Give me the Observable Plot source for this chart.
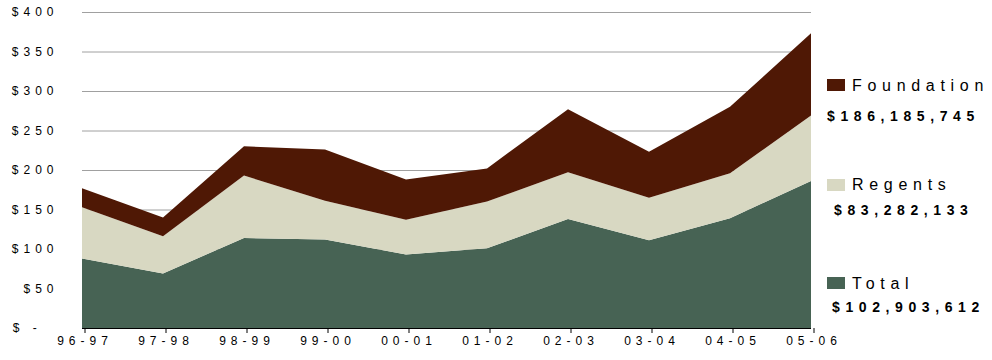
<!DOCTYPE html>
<html>
<head>
<meta charset="utf-8">
<script src="https://cdn.jsdelivr.net/npm/d3@7"></script>
<script src="https://cdn.jsdelivr.net/npm/@observablehq/plot@0.6"></script>
<style>
  html, body { margin: 0; padding: 0; background: #fff; }
  #wrap { position: relative; width: 992px; height: 360px; font-family: "Liberation Sans", Arial, sans-serif; }
  #chart svg text { letter-spacing: 5px; }
  .lg { position: absolute; line-height: 1; color: #000; white-space: nowrap; }
  .lg.sw { width: 18px; height: 12px; }
  .lg.name { font-size: 16px; letter-spacing: 5.7px; }
  .lg.val { font-size: 14px; font-weight: bold; letter-spacing: 5.6px; }
</style>
</head>
<body>
<div id="wrap"><div id="chart"></div></div>
<script>
const categories = ["96-97","97-98","98-99","99-00","00-01","01-02","02-03","03-04","04-05","05-06"];
const seriesNames = ["Total","Regents","Foundation"];
const seriesColors = ["#476354","#d8d8c2","#4f1805"];
const totalValues = [88, 69, 114, 112, 93, 101, 138, 111, 139, 186];
const regentsValues = [65, 47, 79, 49, 44, 59, 59, 54, 57, 83];
const foundationValues = [24, 24, 37, 65, 51, 42, 80, 58, 84, 104];
const yTicks = [0, 50, 100, 150, 200, 250, 300, 350, 400];
const yTickLabels = ["$ -\u00a0\u00a0", "$50", "$100", "$150", "$200", "$250", "$300", "$350", "$400"];
const legendNames = ["Foundation", "Regents", "Total"];
const legendValues = ["$186,185,745", "$83,282,133", "$102,903,612"];
const legendColors = ["#4f1805", "#d8d8c2", "#476354"];

const valuesBySeries = {Total: totalValues, Regents: regentsValues, Foundation: foundationValues};
const rows = [];
for (const s of seriesNames) {
  categories.forEach((c, i) => rows.push({year: c, series: s, value: valuesBySeries[s][i]}));
}

const chart = Plot.plot({
  width: 992,
  height: 360,
  marginLeft: 82,
  marginRight: 181,
  marginTop: 12,
  marginBottom: 32,
  style: {fontFamily: "'Liberation Sans', Arial, sans-serif", fontSize: "12px", color: "#000", background: "#fff"},
  x: {type: "point", domain: categories, padding: 0},
  y: {domain: [0, 400]},
  color: {domain: seriesNames, range: seriesColors},
  marks: [
    Plot.gridY(yTicks, {stroke: "#a0a0a0", strokeOpacity: 1}),
    Plot.areaY(rows, {x: "year", y: "value", fill: "series", order: seriesNames}),
    Plot.ruleY([0], {stroke: "#000"}),
    Plot.axisY(yTicks, {tickSize: 0, tickPadding: 24, tickFormat: d => yTickLabels[yTicks.indexOf(d)], label: null}),
    Plot.axisX({tickSize: 5, tickPadding: 3, stroke: "#000", dx: 2.5, label: null})
  ]
});
document.getElementById("chart").appendChild(chart);

const wrap = document.getElementById("wrap");
const legendLayout = [
  {sw: [827, 79], name: [852, 77.5], val: [827, 109]},
  {sw: [827, 179], name: [852, 176.5], val: [834, 203]},
  {sw: [827, 277], name: [852, 275.5], val: [832, 300]}
];
legendNames.forEach((n, i) => {
  const L = legendLayout[i];
  const sw = document.createElement("div");
  sw.className = "lg sw";
  sw.style.left = L.sw[0] + "px"; sw.style.top = L.sw[1] + "px";
  sw.style.background = legendColors[i];
  wrap.appendChild(sw);
  const nm = document.createElement("div");
  nm.className = "lg name"; nm.textContent = n;
  nm.style.left = L.name[0] + "px"; nm.style.top = L.name[1] + "px";
  wrap.appendChild(nm);
  const v = document.createElement("div");
  v.className = "lg val"; v.textContent = legendValues[i];
  v.style.left = L.val[0] + "px"; v.style.top = L.val[1] + "px";
  wrap.appendChild(v);
});
</script>
</body>
</html>
